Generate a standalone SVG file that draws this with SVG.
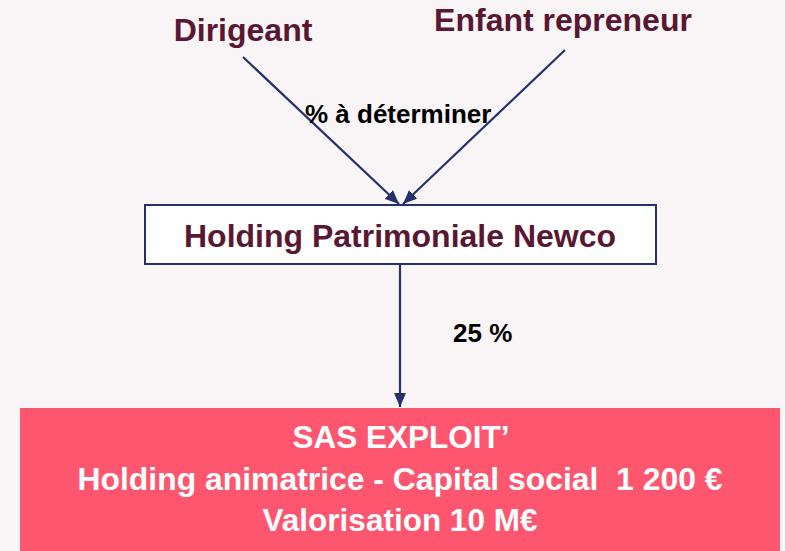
<svg xmlns="http://www.w3.org/2000/svg" width="785" height="551" viewBox="0 0 785 551">
<style>
.lbl{font-family:"Liberation Sans",Arial,sans-serif;font-weight:bold;fill:#5a1733;font-size:32px;text-anchor:middle}
.pct{font-family:"Liberation Sans",Arial,sans-serif;font-weight:bold;fill:#000;font-size:26px}
.w{font-family:"Liberation Sans",Arial,sans-serif;font-weight:bold;fill:#fff;font-size:31.5px;text-anchor:middle;white-space:pre}
.conn{stroke:#25306e;stroke-width:2.2;fill:none;marker-end:url(#ah)}
</style>
<defs>
<marker id="ah" viewBox="0 0 14 12" refX="14" refY="6" markerWidth="14" markerHeight="12" markerUnits="userSpaceOnUse" orient="auto">
<path d="M0,0 L14,6 L0,12 z" fill="#25306e"/>
</marker>
</defs>
<rect x="0" y="0" width="785" height="551" fill="#f9f4f6"/>
<g id="dirigeant"><text class="lbl" x="243" y="41">Dirigeant</text></g>
<g id="enfant"><text class="lbl" x="563" y="31">Enfant repreneur</text></g>
<g id="holding">
<rect x="145" y="205" width="511" height="59" fill="#fff" stroke="#25306e" stroke-width="2"/>
<text class="lbl" x="400" y="247">Holding Patrimoniale Newco</text>
</g>
<g id="sas">
<rect x="20" y="408" width="760" height="143" fill="#fe566f"/>
<text class="w" x="401" y="448">SAS EXPLOIT’</text>
<text class="w" x="400" y="490" textLength="645" lengthAdjust="spacingAndGlyphs" xml:space="preserve">Holding animatrice - Capital social  1 200 €</text>
<text class="w" x="400" y="531">Valorisation 10 M€</text>
</g>
<g id="connectors">
<line class="conn" x1="243" y1="57" x2="399" y2="204"/>
<line class="conn" x1="565" y1="50" x2="403" y2="204"/>
<line class="conn" x1="400" y1="265" x2="400" y2="407"/>
<text class="pct" x="305" y="123">% à déterminer</text>
<text class="pct" x="453" y="342">25 %</text>
</g>
</svg>
